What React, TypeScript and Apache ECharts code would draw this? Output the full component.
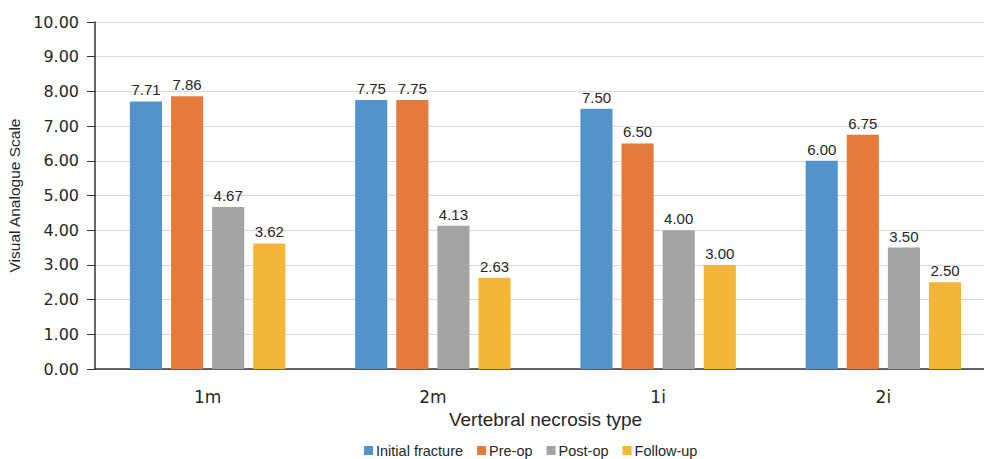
import React, { useEffect, useRef } from "react";
import * as echarts from "echarts";

const categories = ["1m", "2m", "1i", "2i"];
const initialFracture = [7.71, 7.75, 7.5, 6.0];
const preOp = [7.86, 7.75, 6.5, 6.75];
const postOp = [4.67, 4.13, 4.0, 3.5];
const followUp = [3.62, 2.63, 3.0, 2.5];
const seriesNames = ["Initial fracture", "Pre-op", "Post-op", "Follow-up"];
const colors = ["#5392CB", "#E67A3D", "#A4A4A6", "#F3B638"];

const SANS = "'Liberation Sans', Arial, Helvetica, sans-serif";
const WIDE = "'DejaVu Sans', sans-serif";
const TEXT = "#262626";

export default function App() {
  const ref = useRef<HTMLDivElement>(null);

  useEffect(() => {
    if (!ref.current) return;
    const chart = echarts.init(ref.current, undefined, { renderer: "svg" });
    const values = [initialFracture, preOp, postOp, followUp];
    chart.setOption({
      animation: false,
      textStyle: { fontFamily: SANS },
      grid: { left: 95, right: -12, top: 22, bottom: 90, outerBoundsMode: "none", containLabel: false },
      legend: {
        top: 438,
        left: 359,
        itemWidth: 9,
        itemHeight: 9,
        itemGap: 14,
        icon: "rect",
        textStyle: { fontSize: 14.5, color: TEXT, fontFamily: SANS, padding: [0, 0, 0, -2] },
        data: seriesNames,
      },
      xAxis: {
        type: "category",
        data: categories,
        name: "Vertebral necrosis type",
        nameLocation: "middle",
        nameGap: 41,
        nameTextStyle: { fontSize: 19, color: TEXT, fontFamily: SANS },
        axisLine: { lineStyle: { color: "#333", width: 1.5 } },
        axisTick: { alignWithLabel: true, length: 6, lineStyle: { color: "#333" } },
        axisLabel: { fontSize: 17, color: TEXT, margin: 19, fontFamily: WIDE },
      },
      yAxis: {
        type: "value",
        min: 0,
        max: 10,
        interval: 1,
        name: "Visual Analogue Scale",
        nameLocation: "middle",
        nameGap: 71,
        nameTextStyle: { fontSize: 15.5, color: TEXT, fontFamily: SANS },
        axisLine: { show: true, lineStyle: { color: "#333", width: 1.5 } },
        axisTick: { show: true, length: 8, lineStyle: { color: "#333" } },
        axisLabel: {
          fontSize: 16,
          color: TEXT,
          margin: 16,
          fontFamily: WIDE,
          formatter: (v: number) => v.toFixed(2),
        },
        splitLine: { lineStyle: { color: "#D9D9D9" } },
      },
      series: values.map((data, i) => ({
        name: seriesNames[i],
        type: "bar",
        data,
        barGap: "28%",
        barCategoryGap: "31%",
        itemStyle: { color: colors[i] },
        label: {
          show: true,
          position: "top",
          distance: 4,
          fontSize: 15,
          color: TEXT,
          fontFamily: SANS,
          formatter: (p: any) => Number(p.value).toFixed(2),
        },
      })),
    });
    return () => chart.dispose();
  }, []);

  return <div ref={ref} style={{ width: 984, height: 459, position: "absolute", left: 0, top: 0 }} />;
}
